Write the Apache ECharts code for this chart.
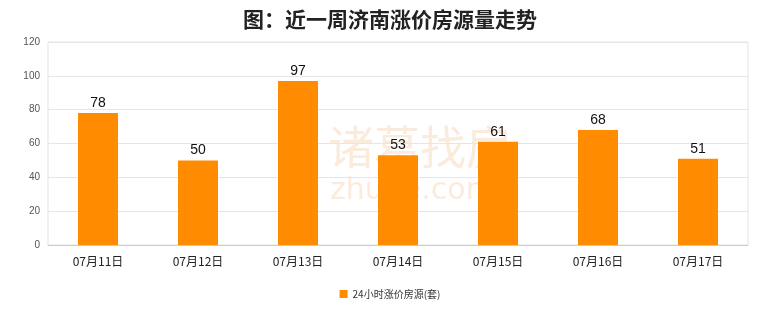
<!DOCTYPE html>
<html><head><meta charset="utf-8">
<script src="https://cdn.jsdelivr.net/npm/echarts@6/dist/echarts.min.js"></script>
<style>html,body{margin:0;padding:0;background:#fff}#c{width:780px;height:328px}</style>
</head><body><div id="c"></div>
<script>
const categories = ['07月11日','07月12日','07月13日','07月14日','07月15日','07月16日','07月17日'];
const values = [78, 50, 97, 53, 61, 68, 51];
const yTicks = [0, 20, 40, 60, 80, 100, 120];
const seriesName = '24小时涨价房源(套)';
const chart = echarts.init(document.getElementById('c'));
chart.setOption({
  animation: false,
  backgroundColor: '#fff',
  title: {
    text: '图：近一周济南涨价房源量走势',
    left: 'center', top: 4,
    textStyle: {fontSize: 21, fontWeight: 'bold', color: '#222', fontFamily: 'Noto Sans CJK SC'}
  },
  graphic: [{
    type: 'text', left: 328, top: 124, z: 0,
    style: {text: '诸葛找房', fontSize: 46, fontWeight: 'normal', fill: 'rgba(242,205,170,0.4)', fontFamily: 'Noto Sans CJK SC'}
  },{
    type: 'text', left: 330, top: 176, z: 0,
    style: {text: 'zhuge.com', fontSize: 30, fill: 'rgba(242,205,170,0.4)', fontFamily: 'DejaVu Sans', letterSpacing: 12}
  }],
  legend: {
    bottom: 24, left: 'center',
    itemWidth: 8, itemHeight: 8, icon: 'rect',
    textStyle: {fontSize: 10, color: '#333', fontFamily: 'Noto Sans CJK SC'},
    data: [seriesName]
  },
  grid: {left: 48, right: 32, top: 42, bottom: 83, show: true, borderColor: '#e3e3e3', borderWidth: 1},
  xAxis: {
    type: 'category', data: categories,
    axisLine: {lineStyle: {color: '#ccc'}},
    axisTick: {show: false},
    axisLabel: {color: '#222', fontSize: 12, margin: 10, fontFamily: 'Noto Sans CJK SC'}
  },
  yAxis: {
    type: 'value', min: yTicks[0], max: yTicks[yTicks.length-1], interval: 20,
    axisLine: {show: false}, axisTick: {show: false},
    splitLine: {lineStyle: {color: '#e6e6e6'}},
    axisLabel: {color: '#555', fontSize: 10, margin: 8}
  },
  series: [{
    name: seriesName, type: 'bar', data: values, barWidth: 40,
    itemStyle: {color: '#FF8C00'},
    label: {show: true, position: 'top', color: '#111', fontSize: 14, distance: 3}
  }]
});
</script></body></html>
